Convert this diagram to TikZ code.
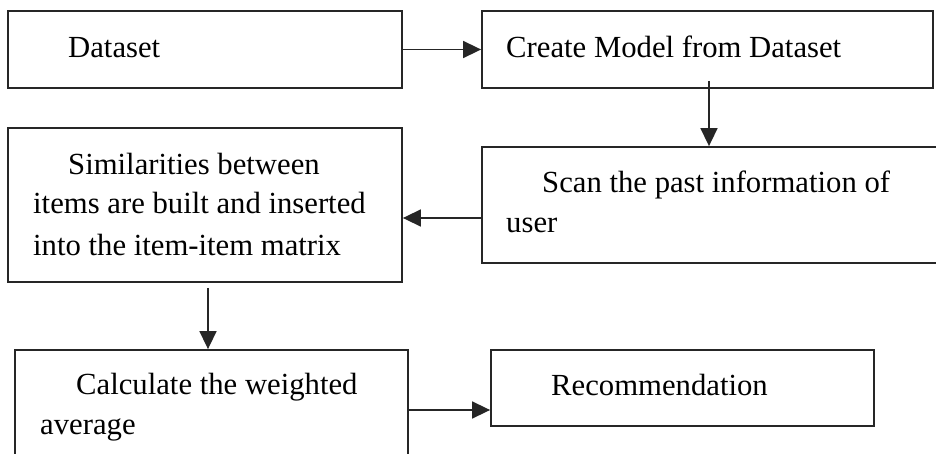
\documentclass[tikz,border=0pt]{standalone}
\usepackage{fontspec}
\setmainfont{Liberation Serif}
\usetikzlibrary{arrows.meta}
\begin{document}
\begin{tikzpicture}[x=1pt,y=-1pt,
  box/.style={draw=black!85, line width=1.8pt, rectangle, inner sep=0pt},
  txt/.style={anchor=base west, inner sep=0pt, font=\fontsize{30.7}{40}\selectfont},
  arr/.style={draw=black!85, line width=1.6pt, -{Triangle[length=18pt,width=17pt]}}]
\useasboundingbox (0,0) rectangle (936,454);
\clip (0,0) rectangle (936,454);
% boxes
\node[box, minimum width=394pt, minimum height=77pt] (ds) at (205,49.5) {};
\node[box, minimum width=451pt, minimum height=77pt] (cm) at (707.5,49.5) {};
\node[box, minimum width=394pt, minimum height=154pt] (sim) at (205,205) {};
\node[box, minimum width=468pt, minimum height=116pt] (scan) at (716,205) {};
\node[box, minimum width=393pt, minimum height=120pt] (calc) at (211.5,410) {};
\node[box, minimum width=383pt, minimum height=76pt] (rec) at (682.5,388) {};
% texts
\node[txt] (t1) at (68,58) {Dataset};
\node[txt] (t2) at (506,58) {Create Model from Dataset};
\node[txt] (t3a) at (68,175) {Similarities between};
\node[txt] (t3b) at (33,214) {items are built and inserted};
\node[txt] (t3c) at (33,255) {into the item-item matrix};
\node[txt] (t4a) at (542,193) {Scan the past information of};
\node[txt] (t4b) at (506,233) {user};
\node[txt] (t5a) at (76,394) {Calculate the weighted};
\node[txt] (t5b) at (40,434) {average};
\node[txt] (t6) at (551,395) {Recommendation};
% connectors
\draw[arr] (ds.east) -- (cm.west);
\draw[arr] ([xshift=1.5pt,yshift=8pt]cm.south) -- ([xshift=1.5pt]scan.north -| cm.south);
\draw[arr] ([yshift=-13pt]scan.west) -- ([yshift=-13pt]sim.east);
\draw[arr] ([xshift=3pt,yshift=-5pt]sim.south) -- ([xshift=3pt]calc.north -| sim.south);
\draw[arr] (calc.east) -- (rec.west |- calc.east);
\end{tikzpicture}
\end{document}
